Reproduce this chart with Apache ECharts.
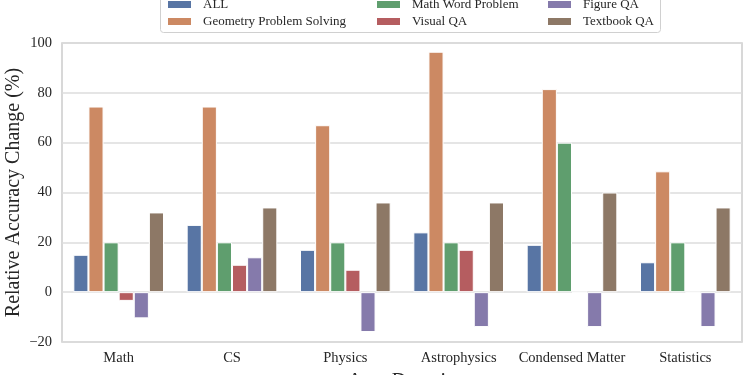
<!DOCTYPE html>
<html>
<head>
<meta charset="utf-8">
<script src="https://cdn.jsdelivr.net/npm/echarts@6/dist/echarts.min.js"></script>
<style>
  html, body { margin: 0; padding: 0; background: #fff; }
  #chart { width: 750px; height: 375px; }
</style>
</head>
<body>
<div id="chart"></div>
<script>
// categories and values
var domains = ["Math", "CS", "Physics", "Astrophysics", "Condensed Matter", "Statistics"];
var allVals = [15, 27, 17, 24, 19, 12];
var geometryVals = [74.5, 74.5, 67, 96.5, 81.5, 48.5];
var mathWordVals = [20, 20, 20, 20, 60, 20];
var visualVals = [-3.5, 11, 9, 17, 0, 0];
var figureVals = [-10.5, 14, -16, -14, -14, -14];
var textbookVals = [32, 34, 36, 36, 40, 34];
var yTicks = { min: -20, max: 100, step: 20 };

var seriesNames = ["ALL", "Geometry Problem Solving", "Math Word Problem", "Visual QA", "Figure QA", "Textbook QA"];
var seriesData = [allVals, geometryVals, mathWordVals, visualVals, figureVals, textbookVals];
var colors = ["#5875a4", "#cc8963", "#5f9e6e", "#b55d60", "#857aab", "#8d7866"];
var font = "'Liberation Serif', 'DejaVu Serif', serif";

var chart = echarts.init(document.getElementById("chart"));

function legendAt(left, names) {
  return {
    orient: "vertical",
    left: left,
    top: -2,
    padding: 0,
    itemWidth: 25,
    itemHeight: 9,
    itemGap: 4,
    icon: "rect",
    selectedMode: false,
    z: 20,
    data: names,
    textStyle: { fontFamily: font, fontSize: 13, color: "#262626", padding: [0, 0, 0, 6] }
  };
}

var series = [];
for (var i = 0; i < seriesNames.length; i++) {
  series.push({
    name: seriesNames[i],
    type: "bar",
    data: seriesData[i],
    barGap: "0%",
    barCategoryGap: "20%",
    itemStyle: { color: colors[i], borderColor: "#ffffff", borderWidth: 1 }
  });
}

chart.setOption({
  animation: false,
  color: colors,
  graphic: [{
    type: "rect",
    left: 160,
    top: -12,
    shape: { width: 500, height: 44, r: 3 },
    style: { fill: "#ffffff", stroke: "#d0d0d0", lineWidth: 1 },
    z: 1
  }],
  legend: [
    legendAt(166, ["ALL", "Geometry Problem Solving"]),
    legendAt(375, ["Math Word Problem", "Visual QA"]),
    legendAt(546, ["Figure QA", "Textbook QA"])
  ],
  grid: {
    left: 62, right: 8, top: 43, bottom: 33,
    outerBoundsMode: "none",
    show: true, borderColor: "#cccccc", borderWidth: 1.5
  },
  xAxis: {
    type: "category",
    data: domains,
    name: "Area Domain",
    nameLocation: "middle",
    nameGap: 30,
    nameMoveOverlap: false,
    nameTextStyle: { fontFamily: font, fontSize: 20, color: "#262626" },
    axisLine: { show: false },
    axisTick: { show: false },
    axisLabel: { interval: 0, fontFamily: font, fontSize: 14.5, color: "#262626", margin: 9 }
  },
  yAxis: {
    type: "value",
    min: yTicks.min,
    max: yTicks.max,
    interval: yTicks.step,
    name: "Relative Accuracy Change (%)",
    nameLocation: "middle",
    nameGap: 38,
    nameMoveOverlap: false,
    nameTextStyle: { fontFamily: font, fontSize: 20, color: "#262626" },
    axisLine: { show: false },
    axisTick: { show: false },
    axisLabel: {
      fontFamily: font, fontSize: 14.5, color: "#262626", margin: 10,
      formatter: function (v) { return String(v).replace("-", "\u2212"); }
    },
    splitLine: { show: true, lineStyle: { color: "#dddddd", width: 1.5 } }
  },
  series: series
});
</script>
</body>
</html>
